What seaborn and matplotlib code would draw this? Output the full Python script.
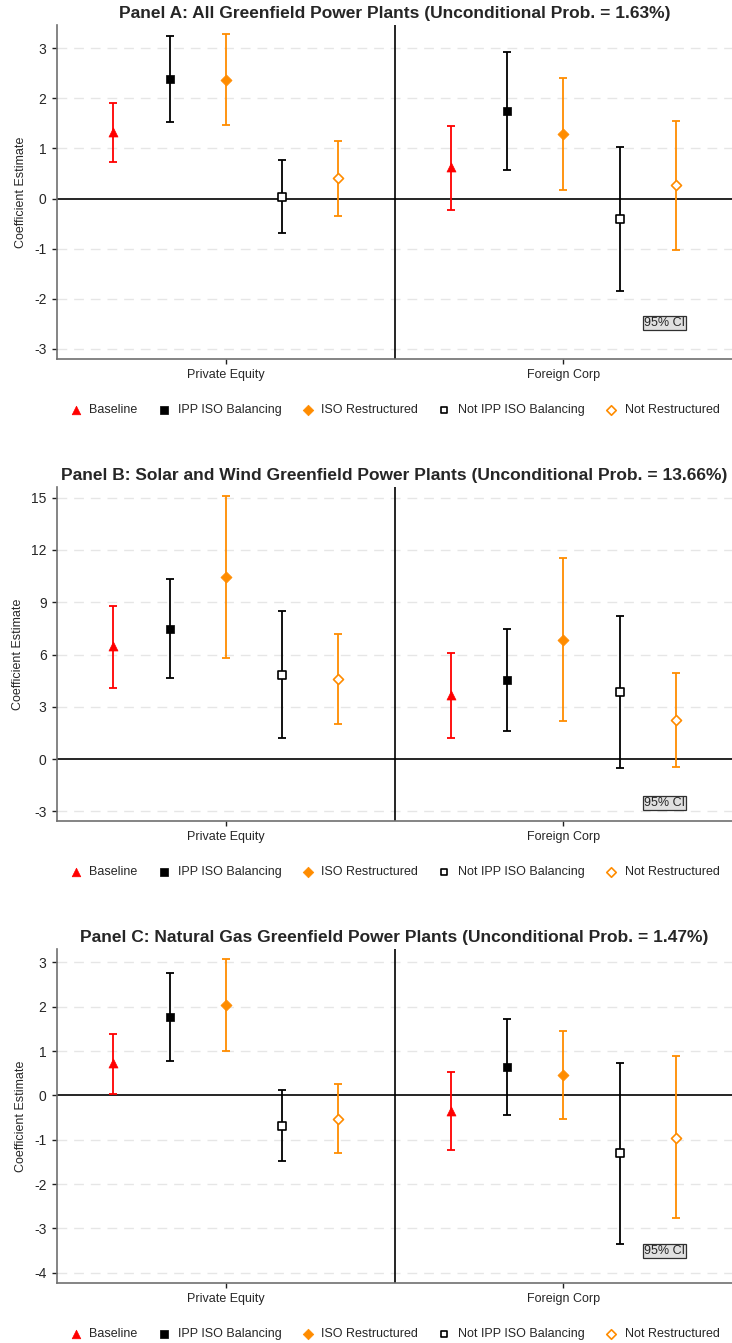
# Coefficient plots for greenfield power plant entry, three panels
import numpy as np
import pandas as pd
import matplotlib
matplotlib.use('Agg')
import matplotlib.pyplot as plt
import seaborn as sns

sns.set_style('white')
plt.rcParams['font.family'] = ['Liberation Sans', 'DejaVu Sans']

# %% Data

groups = ['Private Equity', 'Foreign Corp']
series = ['Baseline', 'IPP ISO Balancing', 'ISO Restructured',
          'Not IPP ISO Balancing', 'Not Restructured']

#Panel A: all greenfield plants
a_est_pe = [1.32, 2.38, 2.37, 0.04, 0.40]
a_lo_pe = [0.72, 1.52, 1.46, -0.68, -0.34]
a_hi_pe = [1.90, 3.25, 3.28, 0.76, 1.14]
a_est_fc = [0.62, 1.75, 1.29, -0.41, 0.26]
a_lo_fc = [-0.22, 0.57, 0.17, -1.85, -1.03]
a_hi_fc = [1.45, 2.92, 2.41, 1.03, 1.55]

#Panel B: solar and wind
b_est_pe = [6.47, 7.48, 10.43, 4.84, 4.59]
b_lo_pe = [4.09, 4.63, 5.82, 1.22, 2.01]
b_hi_pe = [8.76, 10.35, 15.08, 8.48, 7.19]
b_est_fc = [3.65, 4.52, 6.85, 3.83, 2.24]
b_lo_fc = [1.19, 1.59, 2.20, -0.52, -0.44]
b_hi_fc = [6.08, 7.44, 11.54, 8.19, 4.96]

#Panel C: natural gas
c_est_pe = [0.72, 1.76, 2.03, -0.68, -0.53]
c_lo_pe = [0.03, 0.77, 1.00, -1.47, -1.29]
c_hi_pe = [1.38, 2.76, 3.08, 0.13, 0.26]
c_est_fc = [-0.35, 0.65, 0.46, -1.31, -0.95]
c_lo_fc = [-1.24, -0.44, -0.53, -3.35, -2.77]
c_hi_fc = [0.53, 1.73, 1.46, 0.74, 0.89]

titles = ['Panel A: All Greenfield Power Plants (Unconditional Prob. = 1.63%)',
          'Panel B: Solar and Wind Greenfield Power Plants (Unconditional Prob. = 13.66%)',
          'Panel C: Natural Gas Greenfield Power Plants (Unconditional Prob. = 1.47%)']

# %% Styling

colours = ['#ff0000', '#000000', '#ff8c00', '#000000', '#ff8c00']
markers = ['^', 's', 'D', 's', 'D']
filled = [True, True, True, False, False]
sizes = [42, 32, 32, 26, 26]

panels = [
    dict(est=(a_est_pe, a_est_fc), lo=(a_lo_pe, a_lo_fc), hi=(a_hi_pe, a_hi_fc),
         ylim=(-3.2, 3.46), yticks=np.arange(-3, 4, 1), ci_y=-2.49),
    dict(est=(b_est_pe, b_est_fc), lo=(b_lo_pe, b_lo_fc), hi=(b_hi_pe, b_hi_fc),
         ylim=(-3.55, 15.61), yticks=np.arange(-3, 16, 3), ci_y=-2.51),
    dict(est=(c_est_pe, c_est_fc), lo=(c_lo_pe, c_lo_fc), hi=(c_hi_pe, c_hi_fc),
         ylim=(-4.23, 3.30), yticks=np.arange(-4, 4, 1), ci_y=-3.51),
]

W, H = 732, 1343
fig = plt.figure(figsize=(W / 100, H / 100), dpi=100)
fig.patch.set_facecolor('white')

ax_tops = [25, 487, 949]
ax_h = 334
ax_left = 57

#Dodge offsets within each group
offsets = (np.arange(len(series)) - 2) / 6

for pp, panel in enumerate(panels):

    ax = fig.add_axes([ax_left / W, 1 - (ax_tops[pp] + ax_h) / H,
                       1 - ax_left / W, ax_h / H])

    #Build long dataframe for this panel
    rows = []
    for gg, grp in enumerate(groups):
        for ss, ser in enumerate(series):
            rows.append(dict(group=grp, series=ser, x=gg + 1 + offsets[ss],
                             est=panel['est'][gg][ss], lo=panel['lo'][gg][ss],
                             hi=panel['hi'][gg][ss]))
    df = pd.DataFrame(rows)

    #Grid lines, zero line and group separator
    for yy in panel['yticks']:
        if yy != 0:
            ax.axhline(yy, color='#e6e6e6', lw=1, ls=(0, (7, 5)), zorder=0)
    ax.axhline(0, color='black', lw=1.2, zorder=1)
    ax.axvline(1.5, color='black', lw=1.2, zorder=1)

    for ss, ser in enumerate(series):
        sub = df[df['series'] == ser]
        ax.errorbar(sub['x'], sub['est'],
                    yerr=[sub['est'] - sub['lo'], sub['hi'] - sub['est']],
                    fmt='none', ecolor=colours[ss], elinewidth=1.3,
                    capsize=3, capthick=1.3, zorder=2)
        sns.scatterplot(data=sub, x='x', y='est', ax=ax, marker=markers[ss],
                        s=sizes[ss], color=colours[ss],
                        facecolor=colours[ss] if filled[ss] else 'white',
                        edgecolor=colours[ss], linewidth=1.2 if not filled[ss] else 0.5,
                        label=ser, zorder=3)

    #Axes formatting
    ax.set_xlim(0.5, 2.5)
    ax.set_ylim(panel['ylim'])
    ax.set_xticks([1, 2])
    ax.set_xticklabels(groups, fontsize=9)
    ax.set_yticks(panel['yticks'])
    ax.set_yticklabels([str(v) for v in panel['yticks']], fontsize=10)
    ax.set_xlabel('')
    ax.set_ylabel('Coefficient Estimate', fontsize=9, labelpad=5)
    ax.tick_params(axis='both', direction='out', length=3.5, width=1,
                   color='#202020', pad=4, left=True, bottom=True)
    for side in ['top', 'right']:
        ax.spines[side].set_visible(False)
    for side in ['left', 'bottom']:
        ax.spines[side].set_color('#707070')
        ax.spines[side].set_linewidth(1.2)

    ax.set_title(titles[pp], fontsize=12.5, fontweight='bold', pad=5)

    #95% CI note
    ax.text(2.30, panel['ci_y'], '95% CI', fontsize=9, ha='center', va='center',
            bbox=dict(boxstyle='square,pad=0.08', facecolor='#e0e0e0',
                      edgecolor='#303030', lw=0.9))

    #Legend below
    handles, labels = ax.get_legend_handles_labels()
    ax.legend(handles, labels, loc='center', bbox_to_anchor=(0.5, -0.153),
              ncol=5, frameon=False, fontsize=9, handlelength=1.0,
              handletextpad=0.6, columnspacing=1.6, markerscale=0.95)

fig.savefig('out.png', dpi=100, facecolor='white')
